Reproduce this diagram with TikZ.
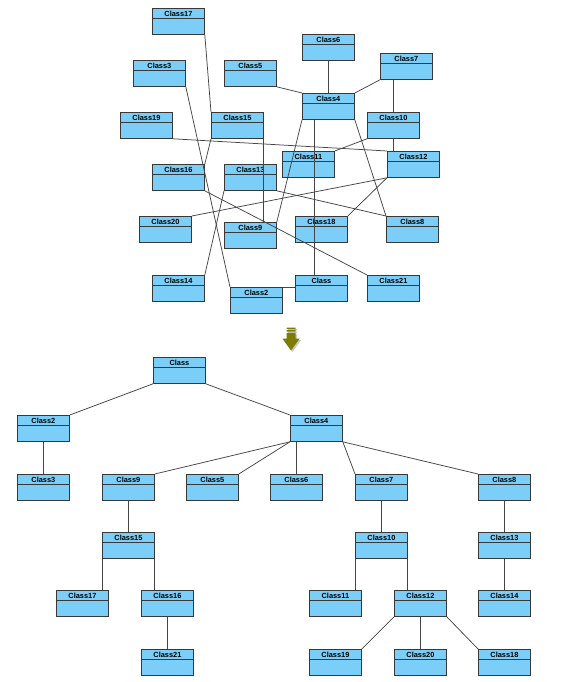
\documentclass[tikz,border=0pt]{standalone}
\usepackage{fontspec}
\setmainfont{Liberation Sans}
\usetikzlibrary{calc}
\definecolor{clsfill}{HTML}{7ACEF8}
\definecolor{clsline}{HTML}{383838}
\definecolor{linkgray}{HTML}{454545}
\definecolor{arrolive}{HTML}{7D7D05}
\tikzset{
  cls/.style={draw=clsline,fill=clsfill,line width=0.8pt,anchor=north west,
    minimum width=52pt,minimum height=26pt,inner sep=0pt,
    text height=8.2pt,text depth=17.8pt,font=\bfseries\fontsize{7.4}{8}\selectfont,
    path picture={\draw[clsline,line width=0.8pt]
      ([yshift=-10pt]path picture bounding box.north west) --
      ([yshift=-10pt]path picture bounding box.north east);}},
  link/.style={draw=linkgray,line width=0.75pt},
}
\newcommand{\umlcls}[3]{\node[cls] (#1) at (#2) {#3};}

\begin{document}
\begin{tikzpicture}[x=1pt,y=-1pt]
  \useasboundingbox (0,0) rectangle (560,682);

  % 1 Unordered layout
  \umlcls{t17}{152,8}{Class17}
  \umlcls{t6}{302,34}{Class6}
  \umlcls{t3}{133,60}{Class3}
  \umlcls{t5}{224,60}{Class5}
  \umlcls{t7}{380,53}{Class7}
  \umlcls{t4}{302,93}{Class4}
  \umlcls{t19}{120,112}{Class19}
  \umlcls{t15}{211,112}{Class15}
  \umlcls{t10}{367,112}{Class10}
  \umlcls{t11}{282,151}{Class11}
  \umlcls{t12}{387,151}{Class12}
  \umlcls{t16}{152,164}{Class16}
  \umlcls{t13}{224,164}{Class13}
  \umlcls{t20}{139,216}{Class20}
  \umlcls{t9}{224,222}{Class9}
  \umlcls{t18}{295,216}{Class18}
  \umlcls{t8}{386,216}{Class8}
  \umlcls{t14}{152,275}{Class14}
  \umlcls{t2}{230,287}{Class2}
  \umlcls{t0}{295,275}{Class}
  \umlcls{t21}{367,275}{Class21}

  \draw[link] (t17.south east) -- (t15.north west);
  \draw[link] (t15.south west) -- (t16.north east);
  \draw[link] (t3.south east) -- (t2.north west);
  \draw[link] (t5.south east) -- (t4.north west);
  \draw[link] (t6.south) -- (t4.north);
  \draw[link] (t7.south west) -- (t4.north east);
  \draw[link] (t10.north) -- (t10.north |- t7.south);
  \draw[link] (t10.south) -- (t10.south |- t12.north);
  \draw[link] (t10.south west) -- (t11.north east);
  \draw[link] (t19.south east) -- (t12.north west);
  \draw[link] (t12.south west) -- (t20.north east);
  \draw[link] (t12.south west) -- (t18.north east);
  \draw[link] (t4.south west) -- (t9.north east);
  \draw[link] ([xshift=12.5pt]t4.south west) -- ([xshift=12.5pt]t4.south west |- t0.north);
  \draw[link] (t4.south east) -- (t8.north west);
  \draw[link] (t15.south east) -- (t15.south east |- t9.north);
  \draw[link] (t16.south east) -- (t21.north west);
  \draw[link] (t13.south west) -- (t14.north east);
  \draw[link] (t13.south east) -- (t8.north west);
  \draw[link] (t2.north east) -- (t2.north east -| t0.west);

  % 2 Arrow
  \foreach \d/\c in {1.5/black!22,0/arrolive}{
    \fill[\c,shift={(\d,\d)}] (286.5,327.5) rectangle (295.5,329)
      (286.5,330.2) rectangle (295.5,331.7)
      (286.5,332.9) -- (295.5,332.9) -- (295.5,338.7) -- (299.5,338.7)
      -- (291,350.5) -- (282.5,338.7) -- (286.5,338.7) -- cycle;
  }

  % 3 Tree layout
  \umlcls{b0}{153,357}{Class}
  \umlcls{b2}{17,415}{Class2}
  \umlcls{b4}{290,415}{Class4}
  \umlcls{b3}{17,474}{Class3}
  \umlcls{b9}{102,474}{Class9}
  \umlcls{b5}{186,474}{Class5}
  \umlcls{b6}{270,474}{Class6}
  \umlcls{b7}{355,474}{Class7}
  \umlcls{b8}{478,474}{Class8}
  \umlcls{b15}{102,532}{Class15}
  \umlcls{b10}{355,532}{Class10}
  \umlcls{b13}{478,532}{Class13}
  \umlcls{b17}{56,590}{Class17}
  \umlcls{b16}{141,590}{Class16}
  \umlcls{b11}{309,590}{Class11}
  \umlcls{b12}{394,590}{Class12}
  \umlcls{b14}{478,590}{Class14}
  \umlcls{b21}{141,649}{Class21}
  \umlcls{b19}{309,649}{Class19}
  \umlcls{b20}{394,649}{Class20}
  \umlcls{b18}{478,649}{Class18}

  \draw[link] (b0.south west) -- (b2.north east);
  \draw[link] (b0.south east) -- (b4.north west);
  \draw[link] (b2.south) -- (b3.north);
  \draw[link] (b4.south west) -- (b9.north east);
  \draw[link] (b4.south west) -- (b5.north east);
  \draw[link] (b6.north) -- (b6.north |- b4.south);
  \draw[link] (b4.south east) -- (b7.north west);
  \draw[link] (b4.south east) -- (b8.north west);
  \draw[link] (b9.south) -- (b15.north);
  \draw[link] (b15.south west) -- (b15.south west |- b17.north);
  \draw[link] (b15.south east) -- (b15.south east |- b16.north);
  \draw[link] (b16.south) -- (b21.north);
  \draw[link] (b7.south) -- (b10.north);
  \draw[link] (b10.south west) -- (b10.south west |- b11.north);
  \draw[link] (b10.south east) -- (b10.south east |- b12.north);
  \draw[link] (b8.south) -- (b13.north);
  \draw[link] (b13.south) -- (b14.north);
  \draw[link] (b12.south west) -- (b19.north east);
  \draw[link] (b12.south) -- (b20.north);
  \draw[link] (b12.south east) -- (b18.north west);
\end{tikzpicture}
\end{document}
